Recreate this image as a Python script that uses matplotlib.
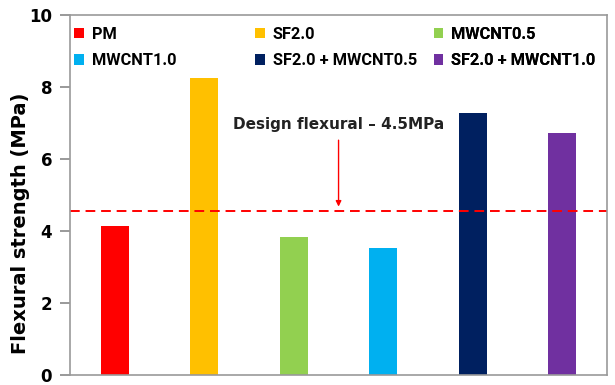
import matplotlib.pyplot as plt
import numpy as np

labels = ['PM', 'SF2.0', 'MWCNT0.5', 'MWCNT1.0', 'SF2.0 + MWCNT0.5', 'SF2.0 + MWCNT1.0']
values = [4.15, 8.25, 3.82, 3.52, 7.27, 6.72]
colors = ['#FF0000', '#FFC000', '#92D050', '#00B0F0', '#002060', '#7030A0']
design_value = 4.55

fig = plt.figure(figsize=(6.15, 3.85), dpi=100)
ax = fig.add_axes([0.114, 0.026, 0.873, 0.935])

x = np.arange(len(labels))
bars = []
for i in range(len(labels)):
    b = ax.bar(x[i], values[i], width=0.31, color=colors[i], label=labels[i])
    bars.append(b)

ax.axhline(design_value, color='#FF0000', ls=(0, (5, 3)), lw=1.4)
ax.annotate('', xy=(2.5, design_value + 0.05), xytext=(2.5, 6.6),
            arrowprops=dict(arrowstyle='-|>', color='#FF0000', lw=1, mutation_scale=8))
ax.text(2.5, 6.95, 'Design flexural \u2013 4.5MPa', ha='center', va='center',
        fontsize=11, fontweight='bold', color='#222222')

ax.set_xlim(-0.5, 5.5)
ax.set_ylim(0, 10)
ax.set_xticks([])
ax.set_yticks([0, 2, 4, 6, 8, 10])
ax.tick_params(axis='y', labelsize=12, length=7, color='#888888', width=1.2, pad=6)
for t in ax.get_yticklabels():
    t.set_fontweight('bold')
for s in ax.spines.values():
    s.set_color('#999999')
    s.set_linewidth(1.2)
ax.set_ylabel('Flexural strength (MPa)', fontsize=14, fontweight='bold')
ax.yaxis.set_label_coords(-0.074, 0.42)

# legend laid out row by row in three equal columns
col_x = [0.008, 0.345, 0.677]
for c in range(3):
    idx = [c, c + 3]
    leg = ax.legend([bars[i] for i in idx], [labels[i] for i in idx],
                    loc='upper left', bbox_to_anchor=(col_x[c], 0.968), frameon=False,
                    prop={'family': 'Roboto', 'weight': 'bold', 'size': 11.8},
                    handlelength=0.6, handleheight=0.6,
                    handletextpad=0.45, labelspacing=0.72, borderpad=0, borderaxespad=0)
    ax.add_artist(leg)

fig.savefig('out.png', dpi=100)
